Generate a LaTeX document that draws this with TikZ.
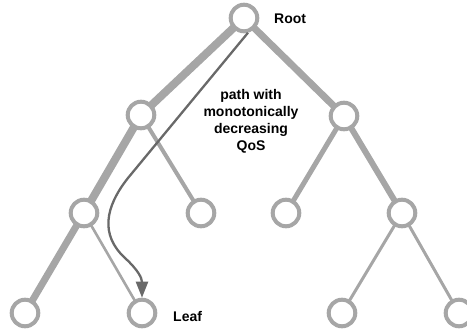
\documentclass[tikz,border=0pt]{standalone}
\usepackage{fontspec}
\setmainfont{Liberation Sans}
\usetikzlibrary{arrows.meta}
\definecolor{treegray}{HTML}{A6A6A6}
\definecolor{pathgray}{HTML}{696969}
\tikzset{
  vert/.style={circle, draw=treegray, fill=white, line width=4pt, minimum size=26.6pt, inner sep=0pt},
  edge/.style={draw=treegray, line cap=butt},
  lbl/.style={font=\bfseries\fontsize{14}{17}\selectfont, text=black, inner sep=0pt},
}
\begin{document}
\begin{tikzpicture}[x=1pt,y=-1pt]
\useasboundingbox (0,0) rectangle (467,335);
% vertex positions
\coordinate (pr) at (244,18);
\coordinate (pa) at (141,115);
\coordinate (pb) at (344,116);
\coordinate (pc) at (84,213);
\coordinate (pd) at (201,213);
\coordinate (pe) at (286,213);
\coordinate (pf) at (402,213);
\coordinate (pg) at (25,313);
\coordinate (ph) at (142,313);
\coordinate (pi) at (342,313);
\coordinate (pj) at (459,313);
% edges (centre to centre, covered by the white-filled vertices)
\draw[edge, line width=8pt] (pr) -- (pa);
\draw[edge, line width=7pt] (pr) -- (pb);
\draw[edge, line width=8pt] (pa) -- (pc);
\draw[edge, line width=4pt] (pa) -- (pd);
\draw[edge, line width=5pt] (pb) -- (pe);
\draw[edge, line width=6pt] (pb) -- (pf);
\draw[edge, line width=7pt] (pc) -- (pg);
\draw[edge, line width=2.6pt] (pc) -- (ph);
\draw[edge, line width=3pt] (pf) -- (pi);
\draw[edge, line width=3pt] (pf) -- (pj);
% vertices
\node[vert] (r) at (pr) {};
\node[vert] (a) at (pa) {};
\node[vert] (b) at (pb) {};
\node[vert] (c) at (pc) {};
\node[vert] (d) at (pd) {};
\node[vert] (e) at (pe) {};
\node[vert] (f) at (pf) {};
\node[vert] (g) at (pg) {};
\node[vert] (h) at (ph) {};
\node[vert] (i) at (pi) {};
\node[vert] (j) at (pj) {};
% labels
\node[lbl, anchor=west] (rootlbl) at (274,19) {Root};
\node[lbl, anchor=west] (leaflbl) at (173,316) {Leaf};
\node[lbl, align=center] (pathlbl) at (251,121) {path with\\monotonically\\decreasing\\QoS};
% path arrow
\coordinate (p1) at (128,178);
\coordinate (p2) at (125,258);
\draw[pathgray, line width=2.3pt, -{Triangle[length=16pt,width=12pt]}]
  (r.-75) -- (p1) .. controls (105,207) and (100,235) .. (p2)
  .. controls (138,270) and (142,278) .. (h.north);
\end{tikzpicture}
\end{document}
